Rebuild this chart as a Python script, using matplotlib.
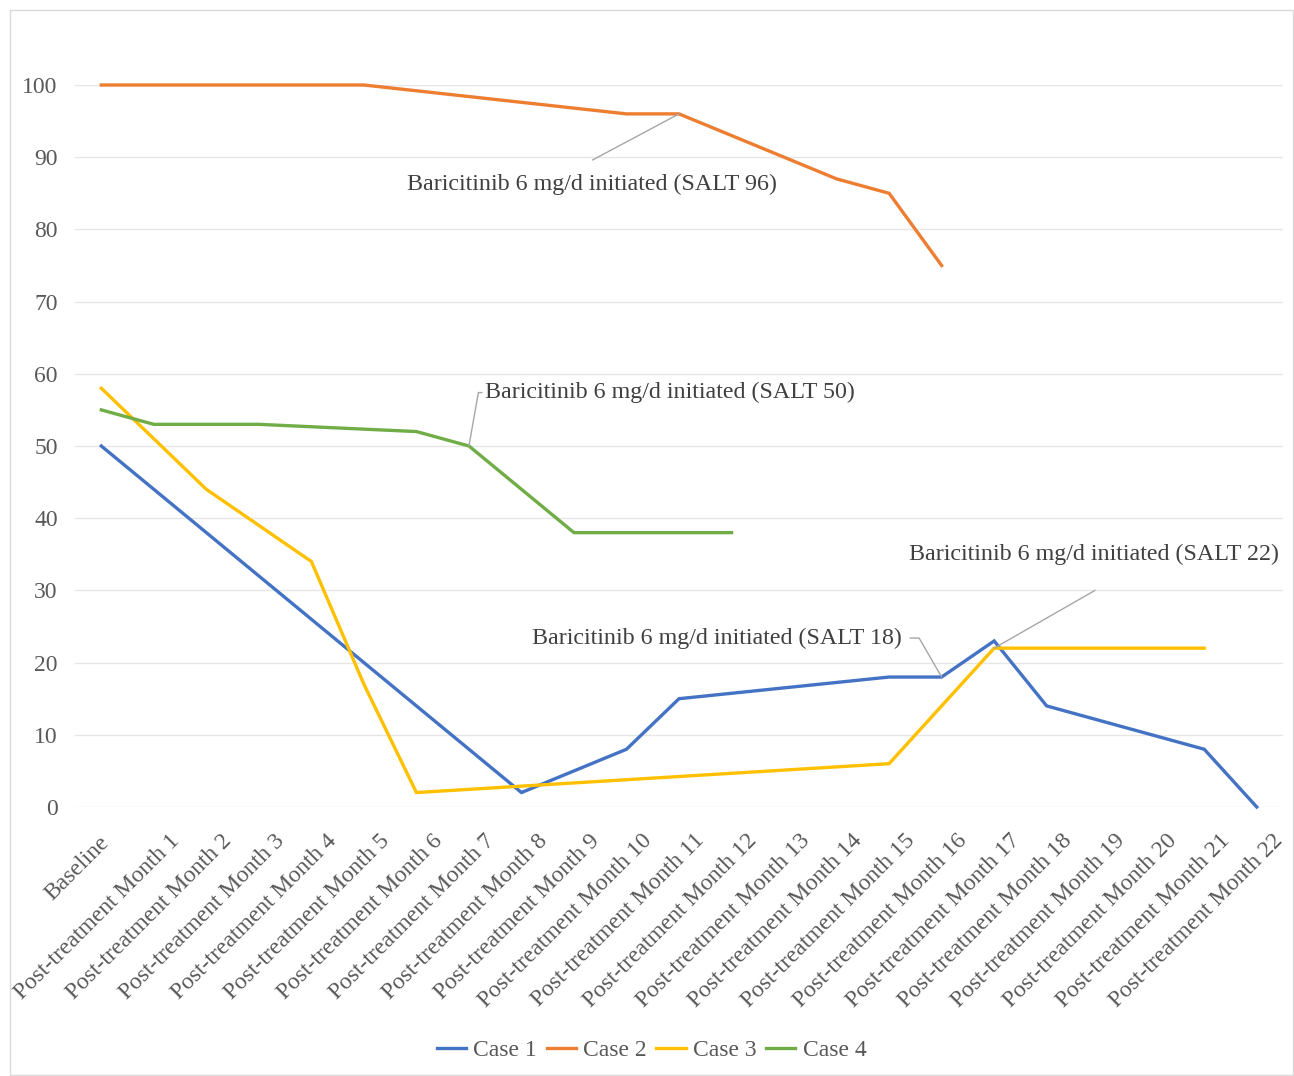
import numpy as np
import matplotlib.pyplot as plt
from matplotlib.patches import Rectangle
from matplotlib.transforms import ScaledTranslation, blended_transform_factory

plt.rcParams['font.family'] = ['Liberation Serif', 'DejaVu Serif']

nan = np.nan

# categories
labels = ['Baseline'] + ['Post-treatment Month %d' % i for i in range(1, 23)]

# SALT scores (gaps = no visit recorded, Excel connects the points)
case1 = [50, nan, nan, nan, nan, nan, nan, nan, 2, nan, 8, 15, nan, nan, nan,
         18, 18, 23, 14, nan, nan, 8, 0]
case2 = [100, nan, nan, nan, nan, 100, nan, nan, nan, nan, 96, 96, nan, nan, 87,
         85, 75, nan, nan, nan, nan, nan, nan]
case3 = [58, nan, 44, nan, 34, 17, 2, nan, nan, nan, nan, nan, nan, nan, nan,
         6, nan, 22, nan, nan, nan, 22, nan]
case4 = [55, 53, nan, 53, nan, nan, 52, 50, nan, 38, nan, nan, 38, nan, nan,
         nan, nan, nan, nan, nan, nan, nan, nan]

series = [('Case 1', case1, '#4472C4'),
          ('Case 2', case2, '#ED7D31'),
          ('Case 3', case3, '#FFC000'),
          ('Case 4', case4, '#70AD47')]

fig = plt.figure(figsize=(12.94, 10.76), dpi=100)
ax = fig.add_axes([0.058, 0.25, 0.9335, 0.671])

x = np.arange(len(labels))
for name, vals, col in series:
    v = np.array(vals, dtype=float)
    m = ~np.isnan(v)
    ax.plot(x[m], v[m], color=col, lw=2.4, label=name, clip_on=False,
            solid_joinstyle='miter')

ax.set_xlim(-0.5, len(labels) - 0.5)
ax.set_ylim(0, 100)
ax.set_yticks(range(0, 101, 10))
ax.yaxis.grid(True, color='#e6e6e6', lw=1)
ax.set_axisbelow(True)
for s in ax.spines.values():
    s.set_visible(False)
ax.tick_params(axis='both', length=0, colors='#595959', labelsize=17)
ax.tick_params(axis='y', pad=12.5)
ax.set_xticks(x)
ax.set_xticklabels([])

# rotated category labels, placed like Excel does
trans = blended_transform_factory(ax.transData, ax.transAxes)
for i, lab in enumerate(labels):
    dx, dy = (-3, 25) if i == 0 else (15, 23)
    off = ScaledTranslation(dx / 100, -dy / 100, fig.dpi_scale_trans)
    ax.text(i, 0, lab, transform=trans + off, rotation=45, rotation_mode='anchor',
            ha='right', va='top', fontsize=17, color='#595959', clip_on=False)

# annotations with leader lines
lc = '#a6a6a6'
tc = '#404040'
fs = 17.3
leader = dict(arrowstyle='-', color=lc, lw=1, shrinkA=0, shrinkB=0)

ax.text(9.35, 86.2, 'Baricitinib 6 mg/d initiated (SALT 96)', ha='center', va='center',
        fontsize=fs, color=tc)
ax.annotate('', xy=(11, 96), xytext=(9.35, 89.6), arrowprops=leader)

ax.annotate('Baricitinib 6 mg/d initiated (SALT 50)', xy=(7, 50), xytext=(7.3, 57.4),
            ha='left', va='center', fontsize=fs, color=tc,
            arrowprops=dict(leader, connectionstyle='angle,angleA=180,angleB=80,rad=0'))

ax.annotate('Baricitinib 6 mg/d initiated (SALT 18)', xy=(16, 18), xytext=(15.24, 23.4),
            ha='right', va='center', fontsize=fs, color=tc,
            arrowprops=dict(leader, shrinkA=4,
                            connectionstyle='angle,angleA=0,angleB=-60,rad=0'))

ax.text(18.9, 35, 'Baricitinib 6 mg/d initiated (SALT 22)', ha='center', va='center',
        fontsize=fs, color=tc)
ax.annotate('', xy=(17, 22), xytext=(18.92, 30.0), arrowprops=leader)

leg = fig.legend(loc='center', bbox_to_anchor=(0.5035, 0.024), ncol=4, frameon=False,
                 fontsize=17, handlelength=1.25, handletextpad=0.3, columnspacing=0.4,
                 labelcolor='#595959')

# chart area border
fig.patches.append(Rectangle((0.008, 0.001), 0.991, 0.99, transform=fig.transFigure,
                             fill=False, ec='#d9d9d9', lw=1))

fig.savefig('out.png', dpi=100, facecolor='white')
